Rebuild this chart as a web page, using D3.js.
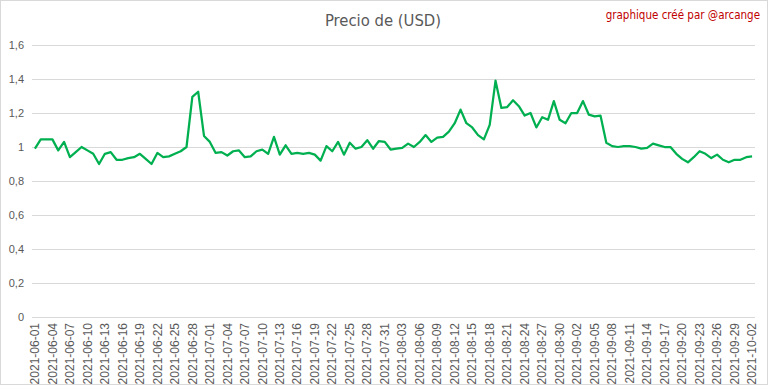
<!DOCTYPE html>
<html>
<head>
<meta charset="utf-8">
<script src="https://cdn.jsdelivr.net/npm/d3@7"></script>
<style>
  body { margin: 0; background: #fff; }
  svg { display: block; font-family: "Liberation Sans Narrow", "DejaVu Sans Condensed", sans-serif; }
</style>
</head>
<body>
<script>
// Data
const startDate = "2021-06-01";
const endDate = "2021-10-02";
const fmt = d3.utcFormat("%Y-%m-%d");
const dates = d3.utcDay.range(new Date(startDate + "T00:00Z"), d3.utcDay.offset(new Date(endDate + "T00:00Z"), 1)).map(fmt);

const prices = [
  0.99, 1.045, 1.045, 1.045, 0.98, 1.03, 0.94, 0.97, 1.0, 0.98,
  0.96, 0.90, 0.96, 0.97, 0.925, 0.925, 0.935, 0.94, 0.96, 0.93,
  0.90, 0.965, 0.94, 0.945, 0.96, 0.975, 1.0, 1.295, 1.325, 1.065,
  1.03, 0.965, 0.97, 0.95, 0.975, 0.98, 0.94, 0.945, 0.975, 0.985,
  0.96, 1.06, 0.955, 1.01, 0.96, 0.965, 0.96, 0.965, 0.955, 0.92,
  1.005, 0.975, 1.03, 0.955, 1.025, 0.99, 1.0, 1.04, 0.99, 1.035,
  1.03, 0.985, 0.99, 0.995, 1.02, 1.0, 1.03, 1.07, 1.03, 1.055,
  1.06, 1.09, 1.14, 1.22, 1.14, 1.115, 1.07, 1.045, 1.13, 1.39,
  1.23, 1.235, 1.275, 1.24, 1.185, 1.2, 1.115, 1.175, 1.16, 1.27,
  1.16, 1.14, 1.2, 1.2, 1.27, 1.19, 1.18, 1.185, 1.025, 1.005,
  1.0, 1.005, 1.005, 1.0, 0.99, 0.995, 1.02, 1.01, 1.0, 1.0,
  0.96, 0.93, 0.91, 0.94, 0.975, 0.96, 0.935, 0.955, 0.925, 0.91,
  0.925, 0.925, 0.94, 0.945
];

const yTicks = [0, 0.2, 0.4, 0.6, 0.8, 1, 1.2, 1.4, 1.6];

const title = "Precio de (USD)";
const credit = "graphique créé par @arcange";

// Dimensions
const W = 768, H = 385;
const margin = { top: 45, right: 13, bottom: 68, left: 32 };
const width = W - margin.left - margin.right;
const height = H - margin.top - margin.bottom;

const svg = d3.select("body")
  .append("svg")
  .attr("width", W)
  .attr("height", H);

// Chart border
svg.append("rect")
  .attr("x", 0.5).attr("y", 0.5)
  .attr("width", W - 1).attr("height", H - 1)
  .attr("fill", "#fff")
  .attr("stroke", "#d9d9d9");

const g = svg.append("g")
  .attr("transform", `translate(${margin.left},${margin.top})`);

const x = d3.scaleBand()
  .domain(dates)
  .range([0, width]);

const y = d3.scaleLinear()
  .domain([0, 1.6])
  .range([height, 0]);

// Gridlines
g.append("g")
  .selectAll("line")
  .data(yTicks)
  .join("line")
  .attr("x1", 0).attr("x2", width)
  .attr("y1", d => Math.round(y(d)) + 0.5)
  .attr("y2", d => Math.round(y(d)) + 0.5)
  .attr("stroke", "#d9d9d9")
  .attr("stroke-width", 1);

// Y axis labels
const yAxis = g.append("g")
  .call(d3.axisLeft(y).tickValues(yTicks).tickSize(0).tickPadding(8)
    .tickFormat(d => d3.format("~g")(d).replace(".", ",")));
yAxis.select(".domain").remove();
yAxis.selectAll("text")
  .attr("fill", "#595959")
  .style("font-size", "11px");

// X axis labels
const xAxis = g.append("g")
  .attr("transform", `translate(0,${height})`)
  .call(d3.axisBottom(x).tickValues(dates.filter((d, i) => i % 3 === 0)).tickSize(0));
xAxis.select(".domain").remove();
xAxis.selectAll("text")
  .attr("fill", "#595959")
  .style("font-size", "12px")
  .style("text-anchor", "end")
  .attr("dx", "-6px")
  .attr("dy", "0.35em")
  .attr("y", 0)
  .attr("transform", "rotate(-90)");

// Line
const line = d3.line()
  .x(d => x(d.date) + x.bandwidth() / 2)
  .y(d => y(d.value));

g.append("path")
  .datum(dates.map((d, i) => ({ date: d, value: prices[i] })))
  .attr("fill", "none")
  .attr("stroke", "#00b050")
  .attr("stroke-width", 2.25)
  .attr("stroke-linejoin", "round")
  .attr("d", line);

// Title
svg.append("text")
  .attr("x", 383)
  .attr("y", 26)
  .attr("text-anchor", "middle")
  .attr("fill", "#595959")
  .style("font-size", "16.5px")
  .text(title);

svg.append("text")
  .attr("x", 760)
  .attr("y", 19)
  .attr("text-anchor", "end")
  .attr("fill", "#c00000")
  .style("font-size", "11.5px")
  .text(credit);
</script>
</body>
</html>
